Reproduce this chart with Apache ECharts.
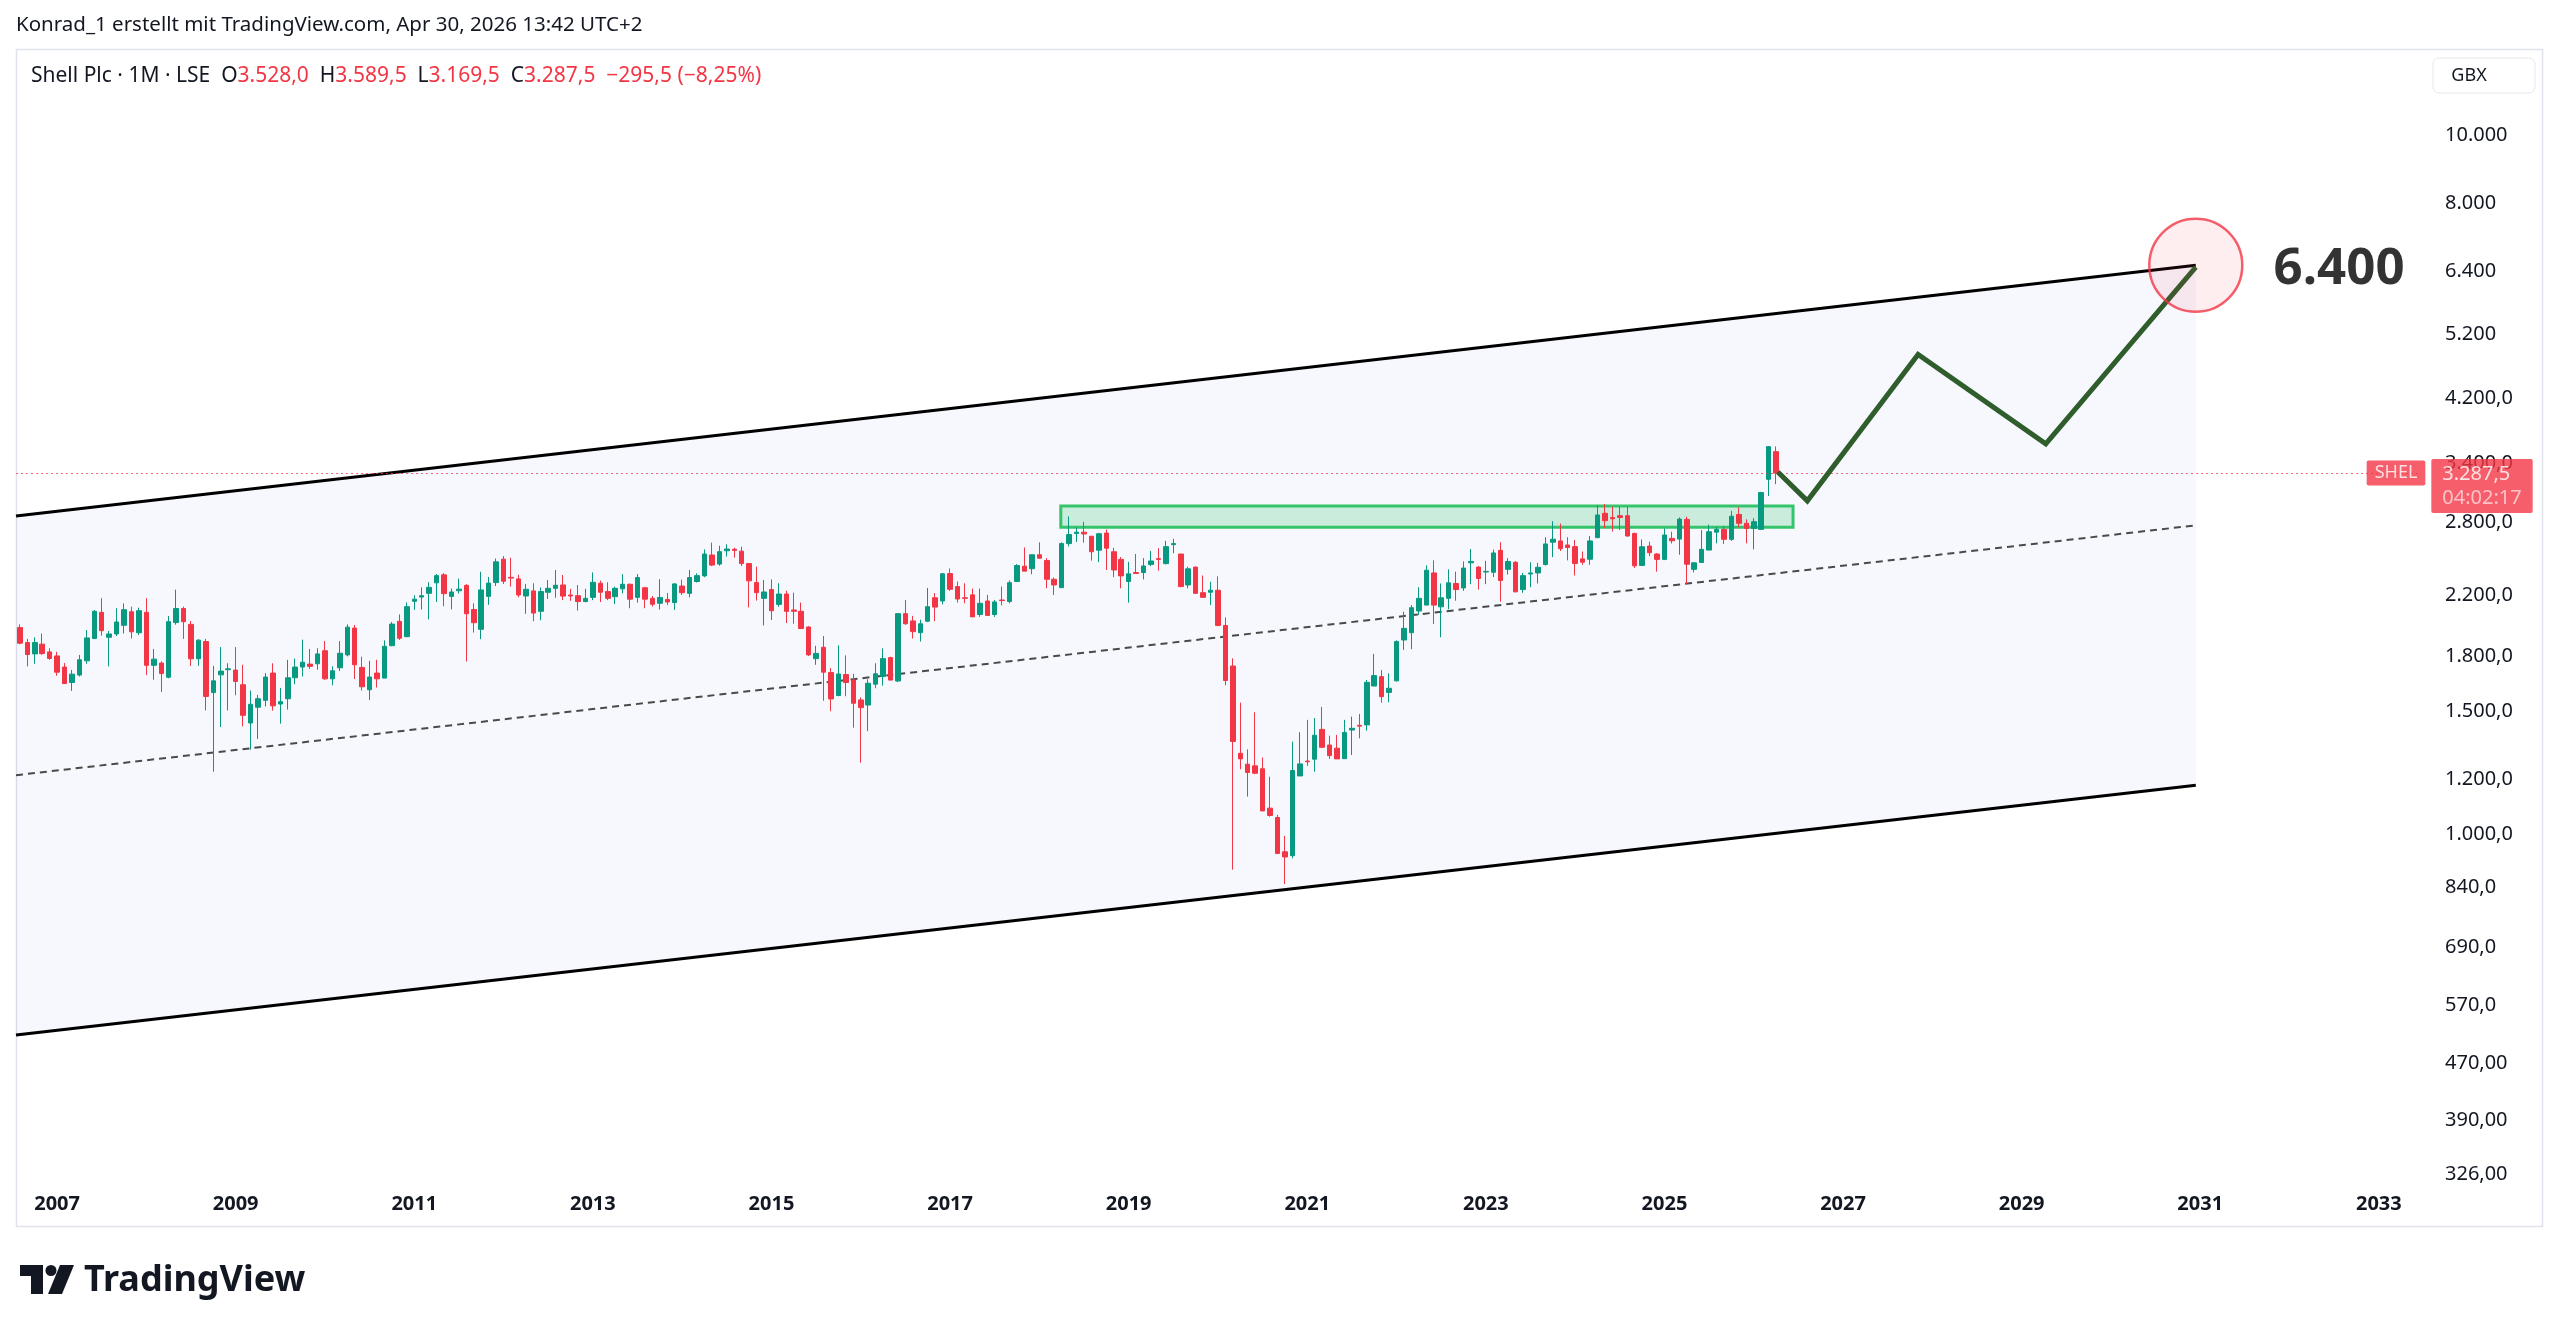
<!DOCTYPE html>
<html>
<head>
<meta charset="utf-8">
<script src="https://cdn.jsdelivr.net/npm/echarts@6/dist/echarts.min.js"></script>
<style>
html,body{margin:0;padding:0;background:#ffffff;}
#chart{width:2560px;height:1334px;}
</style>
</head>
<body>
<div id="chart"></div>
<script>
// ---------- DATA (monthly candles, GBX) ----------
const firstMonth = [2006, 8]; // Aug 2006
const opens = [
1976,1881,1812,1871,1824,
1800,1735,1649,1690,1771,1906,2078,1914,1935,1991,2082,1943,
2078,1745,1758,1678,2009,2104,1997,1783,1887,1595,1691,1720,
1718,1637,1443,1520,1555,1701,1536,1563,1675,1735,1752,1754,
1831,1669,1731,1806,1973,1733,1610,1701,1673,1862,2017,1918,
2155,2185,2212,2290,2351,2190,2231,2271,2097,1965,2190,2292,
2476,2332,2320,2193,2230,2085,2220,2249,2274,2200,2195,2153,
2183,2287,2225,2188,2245,2279,2183,2253,2176,2141,2168,2146,
2266,2212,2300,2343,2510,2436,2545,2558,2542,2440,2292,2176,
2240,2133,2207,2094,2085,1980,1784,1852,1704,1580,1693,1663,
1557,1531,1640,1682,1790,1657,2069,2020,1943,2018,2180,2157,
2361,2262,2180,2201,2063,2157,2063,2164,2153,2300,2419,2399,
2512,2465,2317,2254,2606,2694,2706,2670,2550,2698,2537,2474,
2300,2369,2369,2433,2480,2440,2597,2518,2274,2412,2217,2220,
2235,1990,1741,1306,1260,1253,1241,1090,1057,944,932,1212,
1273,1281,1413,1342,1328,1283,1410,1432,1434,1630,1681,1596,
1658,1897,1943,2087,2128,2366,2116,2176,2285,2252,2446,2412,
2373,2371,2549,2394,2451,2240,2358,2366,2432,2618,2629,2594,
2580,2478,2475,2658,2879,2840,2857,2857,2695,2425,2585,2518,
2474,2651,2645,2822,2394,2449,2551,2706,2731,2643,2869,2786,
2740,2731,3221,3528
];
const highs = [
1997,1904,1914,1938,1846,
1824,1758,1719,1806,1960,2094,2177,1954,2106,2140,2117,2110,
2177,1842,1768,2053,2239,2117,2019,1902,1904,1742,1853,1757,
1853,1748,1606,1583,1701,1757,1620,1777,1784,1899,1842,1846,
1890,1739,1890,1997,1993,1795,1771,1777,1895,2013,2064,2147,
2198,2256,2295,2357,2365,2248,2321,2280,2141,2375,2335,2481,
2501,2487,2352,2282,2287,2255,2311,2389,2350,2245,2274,2245,
2370,2307,2294,2262,2356,2285,2357,2260,2193,2318,2215,2287,
2314,2389,2363,2557,2614,2588,2600,2570,2579,2445,2416,2311,
2316,2287,2231,2217,2146,1985,1861,1922,1729,1864,1803,1697,
1570,1667,1757,1845,1795,2069,2164,2054,2028,2252,2214,2366,
2401,2300,2287,2247,2247,2201,2164,2262,2308,2436,2573,2512,
2617,2484,2331,2617,2850,2750,2800,2670,2700,2730,2570,2493,
2454,2518,2484,2544,2567,2630,2647,2518,2415,2415,2346,2298,
2339,2044,1786,1543,1323,1495,1288,1209,1066,995,1357,1400,
1458,1467,1522,1384,1387,1458,1474,1487,1663,1812,1718,1700,
1895,2082,2128,2257,2426,2466,2285,2394,2376,2457,2560,2420,
2462,2555,2618,2484,2460,2366,2451,2446,2661,2806,2784,2661,
2638,2539,2673,2960,2969,2944,2943,2943,2701,2642,2622,2525,
2740,2710,2841,2847,2450,2725,2774,2754,2761,2902,2938,2823,
2833,3090,3594,3589.5
];
const lows = [
1870,1739,1754,1806,1777,
1686,1641,1604,1682,1754,1902,1924,1739,1922,1938,1906,1928,
1690,1664,1598,1672,1995,1904,1742,1742,1504,1229,1424,1504,
1581,1427,1322,1369,1524,1503,1440,1508,1639,1682,1725,1720,
1664,1634,1712,1797,1668,1606,1557,1622,1673,1858,1897,1914,
2095,2097,2030,2150,2120,2098,2211,1767,1944,1902,2130,2266,
2281,2262,2183,2068,2018,2024,2172,2180,2163,2158,2090,2148,
2163,2150,2163,2135,2212,2106,2145,2106,2118,2097,2129,2095,
2200,2183,2292,2333,2420,2423,2497,2489,2420,2112,2160,1990,
2026,2116,2006,2002,1970,1800,1748,1553,1500,1576,1576,1421,
1266,1405,1618,1632,1662,1652,1995,1906,1887,2012,2018,2133,
2230,2146,2141,2047,2047,2057,2047,2127,2141,2296,2380,2356,
2480,2249,2200,2254,2582,2620,2614,2464,2452,2389,2333,2249,
2146,2359,2316,2419,2384,2433,2524,2257,2249,2212,2183,2128,
1985,1634,890,1239,1132,1219,1080,1060,937,849,924,1212,
1253,1229,1332,1282,1282,1283,1299,1372,1407,1630,1543,1545,
1655,1836,1840,2060,2128,2000,1914,2099,2159,2230,2280,2240,
2280,2334,2152,2354,2220,2216,2257,2285,2425,2492,2543,2466,
2346,2430,2430,2652,2742,2711,2725,2666,2404,2422,2501,2376,
2468,2607,2512,2281,2370,2449,2551,2608,2603,2630,2749,2608,
2557,2725,3049,3169.5
];
const closes = [
1877,1808,1881,1814,1785,
1706,1643,1695,1777,1910,2085,1956,1935,2013,2096,1949,2089,
1745,1781,1698,2015,2104,2015,1783,1896,1575,1658,1712,1725,
1655,1480,1535,1563,1679,1527,1548,1675,1735,1763,1739,1812,
1669,1714,1816,1979,1748,1626,1679,1669,1858,1999,1908,2117,
2170,2195,2256,2345,2210,2222,2243,2068,2008,2237,2288,2454,
2302,2326,2200,2242,2073,2225,2249,2272,2192,2193,2153,2176,
2294,2220,2176,2249,2279,2170,2330,2170,2134,2182,2150,2282,
2217,2330,2345,2518,2428,2538,2560,2548,2440,2305,2217,2222,
2089,2207,2085,2085,1970,1806,1815,1706,1562,1696,1649,1540,
1518,1645,1697,1784,1662,2069,2001,1950,2001,2117,2114,2359,
2242,2171,2176,2047,2141,2057,2150,2160,2291,2424,2380,2512,
2484,2317,2274,2606,2685,2706,2690,2537,2692,2567,2389,2343,
2359,2362,2421,2461,2474,2580,2606,2262,2398,2212,2183,2235,
1990,1660,1358,1282,1226,1223,1080,1064,939,928,1234,1261,
1270,1386,1332,1296,1282,1399,1418,1428,1650,1687,1574,1618,
1887,1971,2110,2176,2387,2128,2180,2290,2240,2404,2457,2323,
2378,2527,2308,2457,2223,2345,2366,2410,2603,2644,2563,2573,
2441,2451,2629,2864,2810,2828,2840,2672,2422,2579,2529,2474,
2681,2630,2825,2435,2446,2557,2710,2731,2643,2852,2786,2740,
2801,3083,3587,3287.5
];

// Drawings (decimal year, price)
const channelX = [2006.54, 2030.95];
const channelUpper = [2854, 6520];
const channelMiddle = [1215, 2768];
const channelLower = [516, 1175];
const zoneX = [2018.24, 2026.44];
const zoneY = [2750, 2950];
const pathX = [2026.27, 2026.60, 2027.84, 2029.27, 2030.95];
const pathY = [3300, 3000, 4860, 3620, 6480];
const targetPoint = [2030.95, 6520];
const targetLabel = '6.400';
const lastPrice = 3287.5;

// Axis ticks
const yearTicks = [2007,2009,2011,2013,2015,2017,2019,2021,2023,2025,2027,2029,2031,2033];
const priceTicks = [326,390,470,570,690,840,1000,1200,1500,1800,2200,2800,3400,4200,5200,6400,8000,10000];
const priceTickLabels = ['326,00','390,00','470,00','570,0','690,0','840,0','1.000,0','1.200,0','1.500,0','1.800,0','2.200,0','2.800,0','3.400,0','4.200,0','5.200','6.400','8.000','10.000'];

// ---------- BUILD ----------
const months = [];
for (let k = 0; k < opens.length; k++) {
  const m0 = firstMonth[1] - 1 + k;
  months.push((firstMonth[0] + Math.floor(m0 / 12)) + '-' + String(m0 % 12 + 1).padStart(2, '0'));
}
function monthToX(s) { const p = s.split('-').map(Number); return p[0] + (p[1] - 1) / 12; }
const candleData = months.map((m, i) => [monthToX(m), opens[i], closes[i], lows[i], highs[i]]);

const X_MIN = 2006.54, X_MAX = 2033.472;
const Y_MIN = 314.9, Y_MAX = 13296;
const FONT = '"Noto Sans", Roboto, sans-serif';
const UP = '#089981', DOWN = '#f23645';

const chart = echarts.init(document.getElementById('chart'), null, {renderer: 'canvas'});

const option = {
  animation: false,
  backgroundColor: '#ffffff',
  textStyle: {fontFamily: FONT},
  title: [
    {
      text: 'Konrad_1 erstellt mit TradingView.com, Apr 30, 2026 13:42 UTC+2',
      left: 16, top: 15, padding: 0,
      textStyle: {fontFamily: FONT, fontSize: 20.5, fontWeight: 'normal', color: '#131722'}
    },
    {
      text: '{n|Shell Plc · 1M · LSE  O}{r|3.528,0}{n|  H}{r|3.589,5}{n|  L}{r|3.169,5}{n|  C}{r|3.287,5}{r|  −295,5 (−8,25%)}',
      left: 31, top: 66, padding: 0,
      textStyle: {
        fontFamily: FONT, fontSize: 21, fontWeight: 'normal',
        rich: {
          n: {fontFamily: FONT, fontSize: 21, color: '#131722'},
          r: {fontFamily: FONT, fontSize: 21, color: '#f23645'}
        }
      }
    }
  ],
  grid: {left: 16, right: 139, top: 49, bottom: 149, containLabel: false, outerBoundsMode: 'none'},
  xAxis: {
    type: 'value', min: X_MIN, max: X_MAX,
    axisLine: {show: false}, axisTick: {show: false}, splitLine: {show: false},
    axisLabel: {
      customValues: yearTicks,
      formatter: v => String(Math.round(v)),
      fontFamily: FONT, fontSize: 20, fontWeight: 'bold', color: '#131722', margin: 9
    }
  },
  yAxis: [
    {type: 'log', min: Y_MIN, max: Y_MAX, show: false, splitLine: {show: false}},
    {
      type: 'value', position: 'right',
      min: Math.log10(Y_MIN), max: Math.log10(Y_MAX),
      axisLine: {show: false}, axisTick: {show: false}, splitLine: {show: false},
      axisLabel: {
        customValues: priceTicks.map(v => Math.log10(v)),
        formatter: v => {
          let best = 0, bd = 1e9;
          priceTicks.forEach((t, k) => { const d = Math.abs(Math.log10(t) - v); if (d < bd) { bd = d; best = k; } });
          return priceTickLabels[best];
        },
        fontFamily: FONT, fontSize: 20, color: '#131722', margin: 24, align: 'left'
      }
    }
  ],
  series: [
    {
      type: 'custom', name: 'channelFill', yAxisIndex: 0, z: 1, silent: true,
      data: [[channelX[0], channelLower[0]]],
      renderItem: (params, api) => {
        const pts = [
          api.coord([channelX[0], channelUpper[0]]),
          api.coord([channelX[1], channelUpper[1]]),
          api.coord([channelX[1], channelLower[1]]),
          api.coord([channelX[0], channelLower[0]])
        ];
        return {type: 'polygon', shape: {points: pts}, style: {fill: 'rgba(100,120,220,0.05)', stroke: null}};
      }
    },
    {
      type: 'line', name: 'upper', yAxisIndex: 0, z: 2, silent: true, symbol: 'none',
      data: channelX.map((x, k) => [x, channelUpper[k]]),
      lineStyle: {color: '#000000', width: 3}
    },
    {
      type: 'line', name: 'lower', yAxisIndex: 0, z: 2, silent: true, symbol: 'none',
      data: channelX.map((x, k) => [x, channelLower[k]]),
      lineStyle: {color: '#000000', width: 3}
    },
    {
      type: 'line', name: 'middle', yAxisIndex: 0, z: 2, silent: true, symbol: 'none',
      data: channelX.map((x, k) => [x, channelMiddle[k]]),
      lineStyle: {color: '#4a4a4a', width: 2, type: [7, 5]}
    },
    {
      type: 'custom', name: 'zone', yAxisIndex: 0, z: 3, silent: true,
      data: [[zoneX[0], zoneY[0]]],
      renderItem: (params, api) => {
        const a = api.coord([zoneX[0], zoneY[1]]);
        const b = api.coord([zoneX[1], zoneY[0]]);
        return {type: 'rect', shape: {x: a[0], y: a[1], width: b[0] - a[0], height: b[1] - a[1]},
          style: {fill: 'rgba(60,200,120,0.24)', stroke: '#34c46a', lineWidth: 3}};
      }
    },
    {
      type: 'candlestick', name: 'SHEL', yAxisIndex: 0, z: 4,
      data: candleData,
      barWidth: 5,
      itemStyle: {color: UP, color0: DOWN, borderColor: UP, borderColor0: DOWN, borderWidth: 1},
      markLine: {
        silent: true, symbol: 'none', animation: false,
        label: {show: false},
        lineStyle: {color: 'rgba(242,54,69,0.75)', width: 1, type: [2, 3]},
        data: [{yAxis: lastPrice}]
      }
    },
    {
      type: 'line', name: 'path', yAxisIndex: 0, z: 5, silent: true, symbol: 'none',
      data: pathX.map((x, k) => [x, pathY[k]]),
      lineStyle: {color: '#2f5d2c', width: 5, join: 'miter'}
    },
    {
      type: 'scatter', name: 'target', yAxisIndex: 0, z: 6, silent: true, clip: false,
      data: [targetPoint],
      symbol: 'circle', symbolSize: 93,
      itemStyle: {color: 'rgba(242,54,69,0.10)', borderColor: '#f23645', borderWidth: 2.5},
      label: {
        show: true, position: 'right', distance: 30, offset: [0, 4], formatter: targetLabel,
        fontFamily: FONT, fontSize: 51, fontWeight: 'bold', color: '#000000'
      }
    },
    {
      type: 'scatter', name: 'lastPriceTags', yAxisIndex: 0, z: 10, silent: true, clip: false,
      symbolSize: 0,
      data: [
        {value: [X_MAX, lastPrice], label: {
          show: true, position: 'inside', offset: [-25, 0],
          formatter: 'SHEL', color: '#ffffff', fontFamily: FONT, fontSize: 18,
          backgroundColor: '#f23645', padding: [4, 8, 3, 8], borderRadius: 2
        }},
        {value: [X_MAX, lastPrice], label: {
          show: true, position: 'inside', offset: [61, 13],
          formatter: '{a|' + '3.287,5' + '}\n{b|04:02:17}',
          backgroundColor: '#f23645', padding: [3, 11, 3, 11], borderRadius: 2,
          rich: {
            a: {color: '#ffffff', fontFamily: FONT, fontSize: 20, lineHeight: 24, align: 'left'},
            b: {color: 'rgba(255,255,255,0.78)', fontFamily: FONT, fontSize: 20, lineHeight: 24, align: 'left'}
          }
        }}
      ]
    }
  ],
  graphic: [
    {type: 'rect', z: 0, silent: true, shape: {x: 16.5, y: 49.5, width: 2526, height: 1177},
      style: {fill: 'none', stroke: '#e0e3eb', lineWidth: 1.5}},
    {type: 'rect', z: 20, silent: true, shape: {x: 2433, y: 58, width: 102, height: 35, r: 6},
      style: {fill: '#ffffff', stroke: '#e6e8ee', lineWidth: 1}},
    {type: 'text', z: 21, silent: true, x: 2469, y: 75.5,
      style: {text: 'GBX', fill: '#131722', font: '18px ' + FONT, align: 'center', verticalAlign: 'middle'}},
    // TradingView logo
    {type: 'group', x: 20, y: 1265, silent: true, children: [
      {type: 'rect', shape: {x: 0, y: 0, width: 23, height: 11}, style: {fill: '#131722'}},
      {type: 'rect', shape: {x: 11, y: 0, width: 12, height: 29}, style: {fill: '#131722'}},
      {type: 'circle', shape: {cx: 31, cy: 5.5, r: 5.5}, style: {fill: '#131722'}},
      {type: 'polygon', shape: {points: [[40, 0], [54, 0], [42, 29], [28, 29]]}, style: {fill: '#131722'}}
    ]},
    {type: 'text', silent: true, x: 84, y: 1281,
      style: {text: 'TradingView', fill: '#131722', font: 'bold 36px ' + FONT, verticalAlign: 'middle'}}
  ]
};
chart.setOption(option);
</script>
</body>
</html>
